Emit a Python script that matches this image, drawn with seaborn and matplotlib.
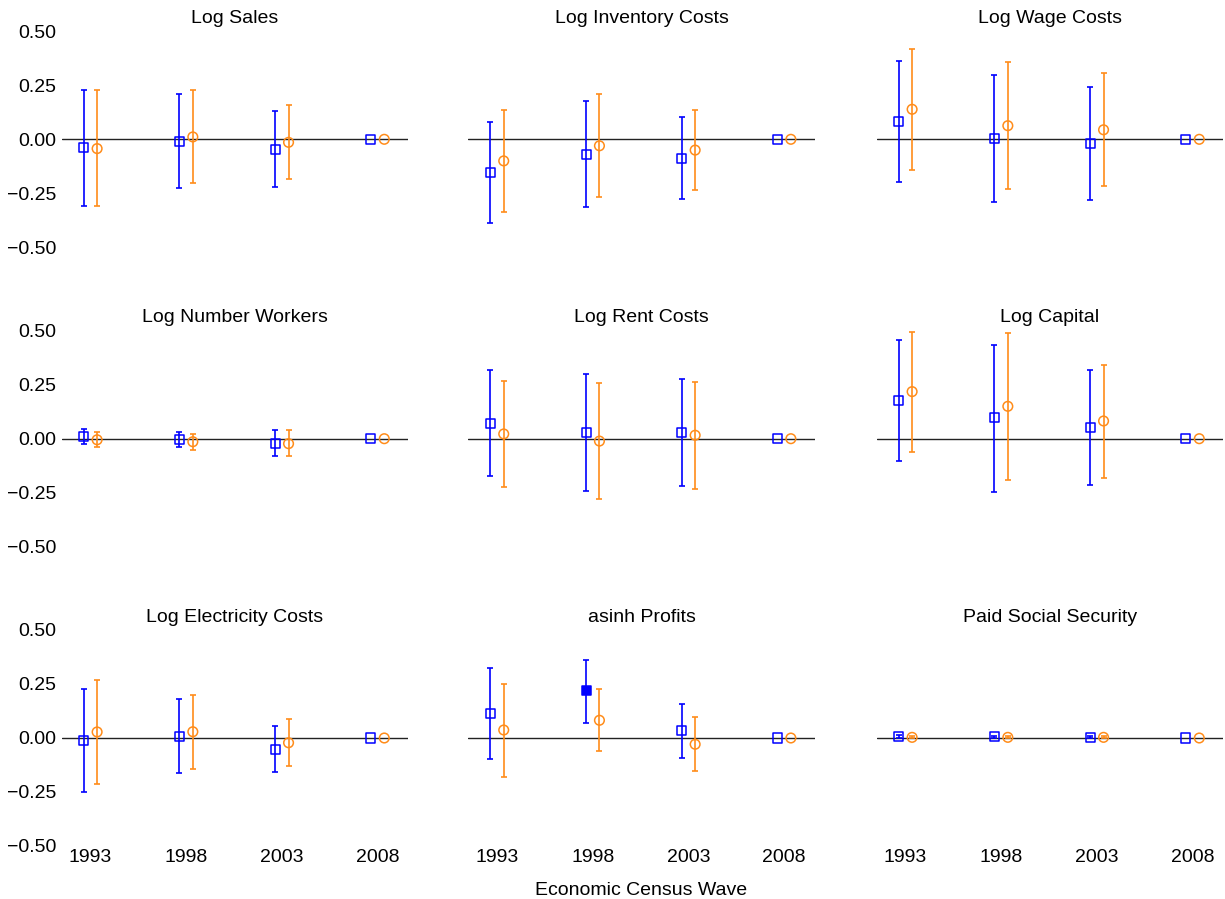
import numpy as np
import pandas as pd
import matplotlib
matplotlib.use("Agg")
import matplotlib.pyplot as plt
import seaborn as sns

# ---------------- data ----------------
years = [1993, 1998, 2003, 2008]
titles = ["Log Sales", "Log Inventory Costs", "Log Wage Costs",
          "Log Number Workers", "Log Rent Costs", "Log Capital",
          "Log Electricity Costs", "asinh Profits", "Paid Social Security"]

nan = np.nan
# series A (blue squares): estimate, lower, upper
est_a = [
    [-0.038, -0.011, -0.045, 0.0],
    [-0.153, -0.069, -0.088, 0.0],
    [0.083, 0.006, -0.020, 0.0],
    [0.011, -0.006, -0.020, 0.0],
    [0.071, 0.031, 0.028, 0.0],
    [0.176, 0.096, 0.054, 0.0],
    [-0.012, 0.006, -0.052, 0.0],
    [0.114, 0.218, 0.035, 0.0],
    [0.006, 0.005, 0.003, 0.0],
]
lo_a = [
    [-0.307, -0.226, -0.220, nan],
    [-0.388, -0.315, -0.278, nan],
    [-0.198, -0.289, -0.282, nan],
    [-0.025, -0.039, -0.080, nan],
    [-0.174, -0.241, -0.220, nan],
    [-0.105, -0.245, -0.213, nan],
    [-0.251, -0.162, -0.157, nan],
    [-0.099, 0.071, -0.091, nan],
    [-0.001, -0.001, -0.002, nan],
]
hi_a = [
    [0.230, 0.209, 0.132, nan],
    [0.081, 0.176, 0.103, nan],
    [0.362, 0.298, 0.242, nan],
    [0.046, 0.031, 0.042, nan],
    [0.317, 0.301, 0.275, nan],
    [0.455, 0.435, 0.319, nan],
    [0.228, 0.179, 0.056, nan],
    [0.326, 0.363, 0.159, nan],
    [0.012, 0.010, 0.008, nan],
]
# series B (orange circles)
est_b = [
    [-0.043, 0.011, -0.014, 0.0],
    [-0.100, -0.030, -0.050, 0.0],
    [0.139, 0.063, 0.044, 0.0],
    [-0.005, -0.014, -0.023, 0.0],
    [0.022, -0.011, 0.016, 0.0],
    [0.218, 0.150, 0.082, 0.0],
    [0.028, 0.029, -0.022, 0.0],
    [0.037, 0.082, -0.029, 0.0],
    [0.003, 0.003, 0.003, 0.0],
]
lo_b = [
    [-0.309, -0.203, -0.184, nan],
    [-0.335, -0.269, -0.233, nan],
    [-0.141, -0.229, -0.215, nan],
    [-0.038, -0.050, -0.082, nan],
    [-0.225, -0.281, -0.234, nan],
    [-0.063, -0.190, -0.180, nan],
    [-0.211, -0.144, -0.128, nan],
    [-0.179, -0.062, -0.154, nan],
    [-0.001, -0.001, -0.001, nan],
]
hi_b = [
    [0.226, 0.226, 0.157, nan],
    [0.134, 0.211, 0.134, nan],
    [0.417, 0.356, 0.306, nan],
    [0.031, 0.020, 0.038, nan],
    [0.269, 0.259, 0.264, nan],
    [0.495, 0.489, 0.343, nan],
    [0.269, 0.201, 0.086, nan],
    [0.252, 0.225, 0.096, nan],
    [0.007, 0.007, 0.007, nan],
]
yticks = [-0.50, -0.25, 0.00, 0.25, 0.50]
xlabel = "Economic Census Wave"

# ---------------- style ----------------
sns.set_theme(style="white")
plt.rcParams["font.family"] = ["Liberation Sans", "DejaVu Sans"]
plt.rcParams["text.color"] = "black"
plt.rcParams["axes.labelcolor"] = "black"
plt.rcParams["xtick.color"] = "black"
plt.rcParams["ytick.color"] = "black"

BLUE = "#0000ff"
ORANGE = "#ff8c1a"
DODGE = 0.35

W, H = 1225, 899
fig = plt.figure(figsize=(W / 100, H / 100), dpi=100)
lefts = [61.7, 468.3, 876.7]
tops = [31.3, 330.7, 630.0]
aw, ah = 346.5, 216.0


def fmt_tick(v):
    s = f"{abs(v):.2f}"
    return ("\u2212" + s) if v < 0 else s


for i, title in enumerate(titles):
    r, c = divmod(i, 3)
    ax = fig.add_axes([lefts[c] / W, 1 - (tops[r] + ah) / H, aw / W, ah / H])
    ax.axhline(0, color="#222222", lw=1.0, zorder=1)

    for est, lo, hi, off, color, marker, ms in [
        (est_a[i], lo_a[i], hi_a[i], -DODGE, BLUE, "s", 42),
        (est_b[i], lo_b[i], hi_b[i], DODGE, ORANGE, "o", 48),
    ]:
        df = pd.DataFrame({"year": years, "est": est, "lo": lo, "hi": hi})
        df["x"] = df["year"] + off
        sig = (df["lo"] > 0) | (df["hi"] < 0)
        yerr = np.vstack([df["est"] - df["lo"], df["hi"] - df["est"]])
        ax.errorbar(df["x"], df["est"], yerr=yerr, fmt="none", ecolor=color,
                    elinewidth=1.2, capsize=2.2, capthick=1.2, zorder=2)
        fcs = [color if s else "none" for s in sig]
        sns.scatterplot(data=df, x="x", y="est", ax=ax, marker=marker, s=ms,
                        color=color, facecolor=fcs, edgecolor=color,
                        linewidth=1.1, zorder=3, legend=False)

    ax.set_xlim(1991.5, 2009.6)
    ax.set_ylim(-0.5, 0.5)
    ax.set_title(title, fontsize=14, pad=6, color="black")
    ax.set_xlabel("")
    ax.set_ylabel("")
    sns.despine(ax=ax, left=True, bottom=True)
    ax.set_yticks(yticks)
    ax.set_xticks(years)
    ax.tick_params(length=0, labelsize=14, colors="black")
    ax.tick_params(axis="y", pad=4)
    ax.tick_params(axis="x", pad=2)
    if c == 0:
        ax.set_yticklabels([fmt_tick(v) for v in yticks])
    else:
        ax.set_yticklabels([])
    if r == 2:
        ax.set_xticklabels([str(y) for y in years])
    else:
        ax.set_xticklabels([])
    if r == 2 and c == 1:
        ax.set_xlabel(xlabel, fontsize=14, labelpad=12, color="black")

fig.savefig("out.png", dpi=100)
